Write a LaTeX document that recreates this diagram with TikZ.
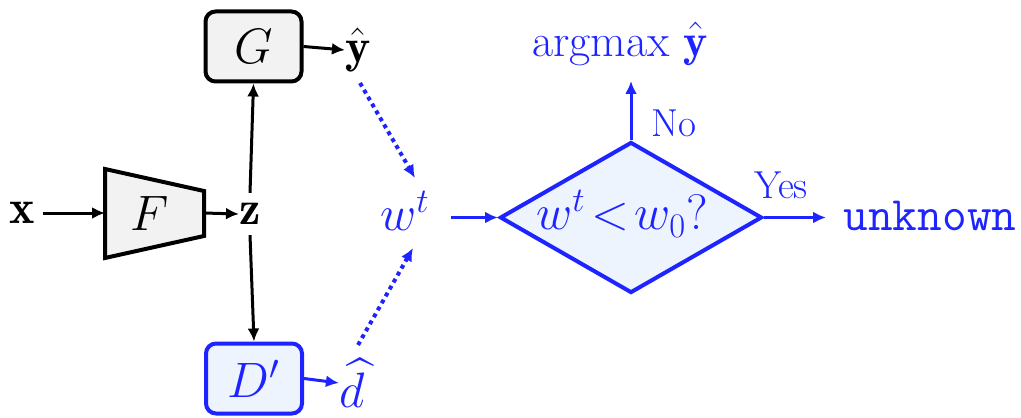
\documentclass[tikz,border=0pt]{standalone}
\usepackage{amsmath}
\usepackage{fontspec}
\usetikzlibrary{arrows.meta,shapes.geometric}
\definecolor{myblue}{RGB}{30,36,255}
\definecolor{lightblue}{RGB}{237,244,253}
\definecolor{lightgray}{RGB}{242,242,242}
\tikzset{
  big/.style={font=\fontsize{24}{28}\selectfont},
  med/.style={font=\fontsize{24}{28}\selectfont},
  small/.style={font=\fontsize{19.5}{23}\selectfont},
  arr/.style={line width=1.5pt,-{Latex[length=6.5pt,width=6pt]}},
  dotarr/.style={myblue,line width=2pt,dash pattern=on 2pt off 2pt,-{Latex[length=6.5pt,width=6pt]}},
  box/.style={draw,rounded corners=5pt,line width=2pt,minimum width=48pt,minimum height=35pt,inner sep=0pt},
}
\begin{document}
\begin{tikzpicture}[x=0.5pt,y=-0.5pt]
\useasboundingbox (0,0) rectangle (1021,417);
% F trapezoid
\draw[line width=2pt,fill=lightgray,line join=miter] (105,169) -- (204,191) -- (204,236) -- (105,258) -- cycle;
\coordinate (Fin) at (105,213);
\coordinate (Fout) at (204,213);
\node[big] (F) at (150,213) {$F$};
\node[med,inner sep=0pt] (x) at (22,213) {$\mathbf{x}$};
\node[med,inner sep=0pt] (z) at (250,214) {$\mathbf{z}$};
\node[box,fill=lightgray,big] (G) at (253.5,46.5) {$G$};
\node[box,draw=myblue,fill=lightblue,text=myblue,big] (D) at (254,378.5) {$D'$};
\node[med,inner sep=0pt] (yh) at (358,50) {$\hat{\mathbf{y}}$};
\node[big,text=myblue,inner sep=0pt] (dh) at (352,383) {$\widehat{d}$};
\node[big,text=myblue,inner sep=0pt] (w) at (405,211) {$w^t$};
\node[diamond,draw=myblue,fill=lightblue,line width=2pt,minimum width=131pt,minimum height=75.5pt,inner sep=0pt,aspect=1.735] (dia) at (631,217.5) {};
\node[big,text=myblue,inner sep=0pt] (cond) at (622,214) {$w^t\!<\!w_0?$};
\node[med,text=myblue,inner sep=0pt,font=\fontsize{23}{27}\selectfont] (am) at (620,44) {argmax $\hat{\mathbf{y}}$};
\node[big,text=myblue,inner sep=0pt,font=\fontsize{24}{28}\ttfamily] (unk) at (930,216) {unknown};
\node[small,text=myblue] (no) at (674,123) {No};
\node[small,text=myblue] (yes) at (781,185) {Yes};
\coordinate (amin) at (631,81);
\coordinate (unkin) at (826,217.5);
\coordinate (win) at (451,217.5);
\coordinate (d1s) at (360,83);
\coordinate (d1e) at (415,178);
\coordinate (d2s) at (358,345);
\coordinate (d2e) at (413,248);
% connectors
\draw[arr] (x.east) ++(8,0) coordinate (xout) -- (Fin);
\draw[arr] (Fout) -- (z.west);
\draw[arr] (z.north) ++(0,-10) -- (G.south);
\draw[arr] (z.south) ++(0,10) -- (D.north);
\draw[arr] (G.east) -- (yh.west);
\draw[arr,myblue] (D.east) -- (dh.west);
\draw[dotarr] (d1s) -- (d1e);
\draw[dotarr] (d2s) -- (d2e);
\draw[arr,myblue] (win) -- (dia.west);
\draw[arr,myblue] (dia.north) -- (amin);
\draw[arr,myblue] (dia.east) -- (unkin);
\end{tikzpicture}
\end{document}
